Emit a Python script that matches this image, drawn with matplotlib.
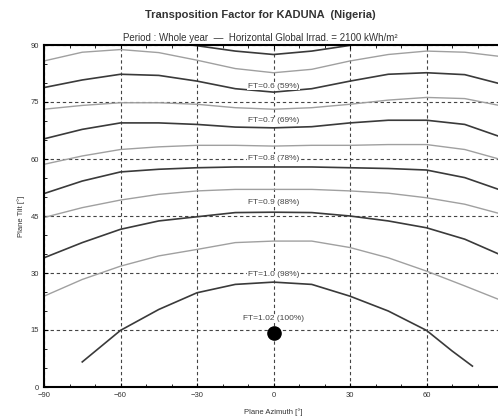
import matplotlib
matplotlib.use("Agg")
import matplotlib.pyplot as plt

plt.rcParams['font.family'] = ['Liberation Sans', 'DejaVu Sans']

# ---- data ----
az = [-90, -75, -60, -45, -30, -15, 0, 15, 30, 45, 60, 75, 90]

ft050_az = [-32, -15, 0, 15, 31]
ft050 = [90.0, 88.4, 87.5, 88.4, 90.0]
ft055 = [85.8, 88.1, 88.8, 88.0, 86.0, 83.8, 82.7, 83.6, 85.8, 87.5, 88.4, 88.1, 86.9]
ft060 = [78.8, 80.8, 82.3, 82.0, 80.5, 78.5, 77.6, 78.5, 80.5, 82.3, 82.7, 82.2, 79.6]
ft065 = [73.1, 74.1, 74.8, 74.8, 74.4, 73.5, 73.1, 73.5, 74.4, 75.5, 76.2, 75.9, 73.9]
ft070 = [65.3, 67.8, 69.5, 69.5, 69.1, 68.4, 68.2, 68.5, 69.5, 70.2, 70.2, 69.1, 65.6]
ft075 = [58.6, 60.8, 62.5, 63.2, 63.6, 63.6, 63.4, 63.6, 63.6, 63.8, 63.8, 62.5, 59.7]
ft080 = [50.9, 54.2, 56.6, 57.3, 57.7, 57.9, 57.9, 57.9, 57.7, 57.5, 57.1, 55.1, 51.6]
ft085 = [44.6, 47.2, 49.2, 50.7, 51.6, 52.0, 52.0, 52.0, 51.6, 51.0, 49.8, 48.1, 45.4]
ft090 = [34.0, 38.0, 41.5, 43.7, 44.8, 45.9, 46.0, 45.9, 45.0, 43.7, 41.9, 38.9, 34.5]
ft095 = [23.9, 28.3, 31.8, 34.5, 36.2, 38.0, 38.4, 38.4, 36.7, 34.0, 30.5, 26.6, 22.6]
ft100_az = [-75, -60, -45, -30, -15, 0, 15, 30, 45, 60, 70, 78]
ft100 = [6.6, 14.9, 20.4, 24.8, 27.0, 27.6, 27.0, 23.9, 20.0, 14.9, 9.5, 5.5]

opt_az = [0]
opt_tilt = [14.3]

label_texts = ["FT=0.6 (59%)", "FT=0.7 (69%)", "FT=0.8 (78%)", "FT=0.9 (88%)",
               "FT=1.0 (98%)", "FT=1.02 (100%)"]
label_tilts = [79.2, 70.0, 60.2, 48.5, 29.6, 18.0]

xticks = [-90, -60, -30, 0, 30, 60, 90]
yticks = [0, 15, 30, 45, 60, 75, 90]

title = "Transposition Factor for KADUNA  (Nigeria)"
subtitle = "Period : Whole year  \u2014  Horizontal Global Irrad. = 2100 kWh/m\u00b2"

# ---- figure ----
fig = plt.figure(figsize=(4.98, 4.19), dpi=100)
ax = fig.add_axes([44 / 498, 32 / 419, 459 / 498, 342 / 419])

dark = dict(color='#3a3a3a', lw=1.2)
light = dict(color='#a0a0a0', lw=1.0)

ax.plot(ft050_az, ft050, **dark)
ax.plot(az, ft055, **light)
ax.plot(az, ft060, **dark)
ax.plot(az, ft065, **light)
ax.plot(az, ft070, **dark)
ax.plot(az, ft075, **light)
ax.plot(az, ft080, **dark)
ax.plot(az, ft085, **light)
ax.plot(az, ft090, **dark)
ax.plot(az, ft095, **light)
ax.plot(ft100_az, ft100, **dark)

ax.plot(opt_az, opt_tilt, 'o', color='black', ms=9.5)

for t, y in zip(label_texts, label_tilts):
    ax.text(0, y, t, ha='center', va='center', fontsize=6, color='#444444',
            bbox=dict(facecolor='white', edgecolor='none', pad=0.3))

ax.set_xlim(-90, 90)
ax.set_ylim(0, 90)
ax.set_xticks(xticks)
ax.set_yticks(yticks)
ax.set_xticks(range(-90, 91, 10), minor=True)
ax.set_yticks(range(0, 91, 5), minor=True)
ax.tick_params(which='both', direction='in', top=True, right=True,
               labelsize=5.5, labelcolor='#333333')
ax.tick_params(which='major', length=3)
ax.tick_params(which='minor', length=2)
ax.grid(True, which='major', linestyle=(0, (3, 2.5)), color='#444444', lw=0.8)
ax.set_axisbelow(True)
for s in ax.spines.values():
    s.set_linewidth(1.5)

ax.set_xlabel("Plane Azimuth [\u00b0]", fontsize=5.5, color='#333333', labelpad=7)
ax.set_ylabel("Plane Tilt [\u00b0]", fontsize=5.5, color='#333333', labelpad=4)

fig.text(0.522, 1 - 15 / 419, title, ha='center', va='center', fontsize=8,
         fontweight='bold', color='#333333')
fig.text(0.522, 1 - 38 / 419, subtitle, ha='center', va='center', fontsize=7,
         color='#333333')

fig.savefig("out.png", dpi=100, facecolor='white')
